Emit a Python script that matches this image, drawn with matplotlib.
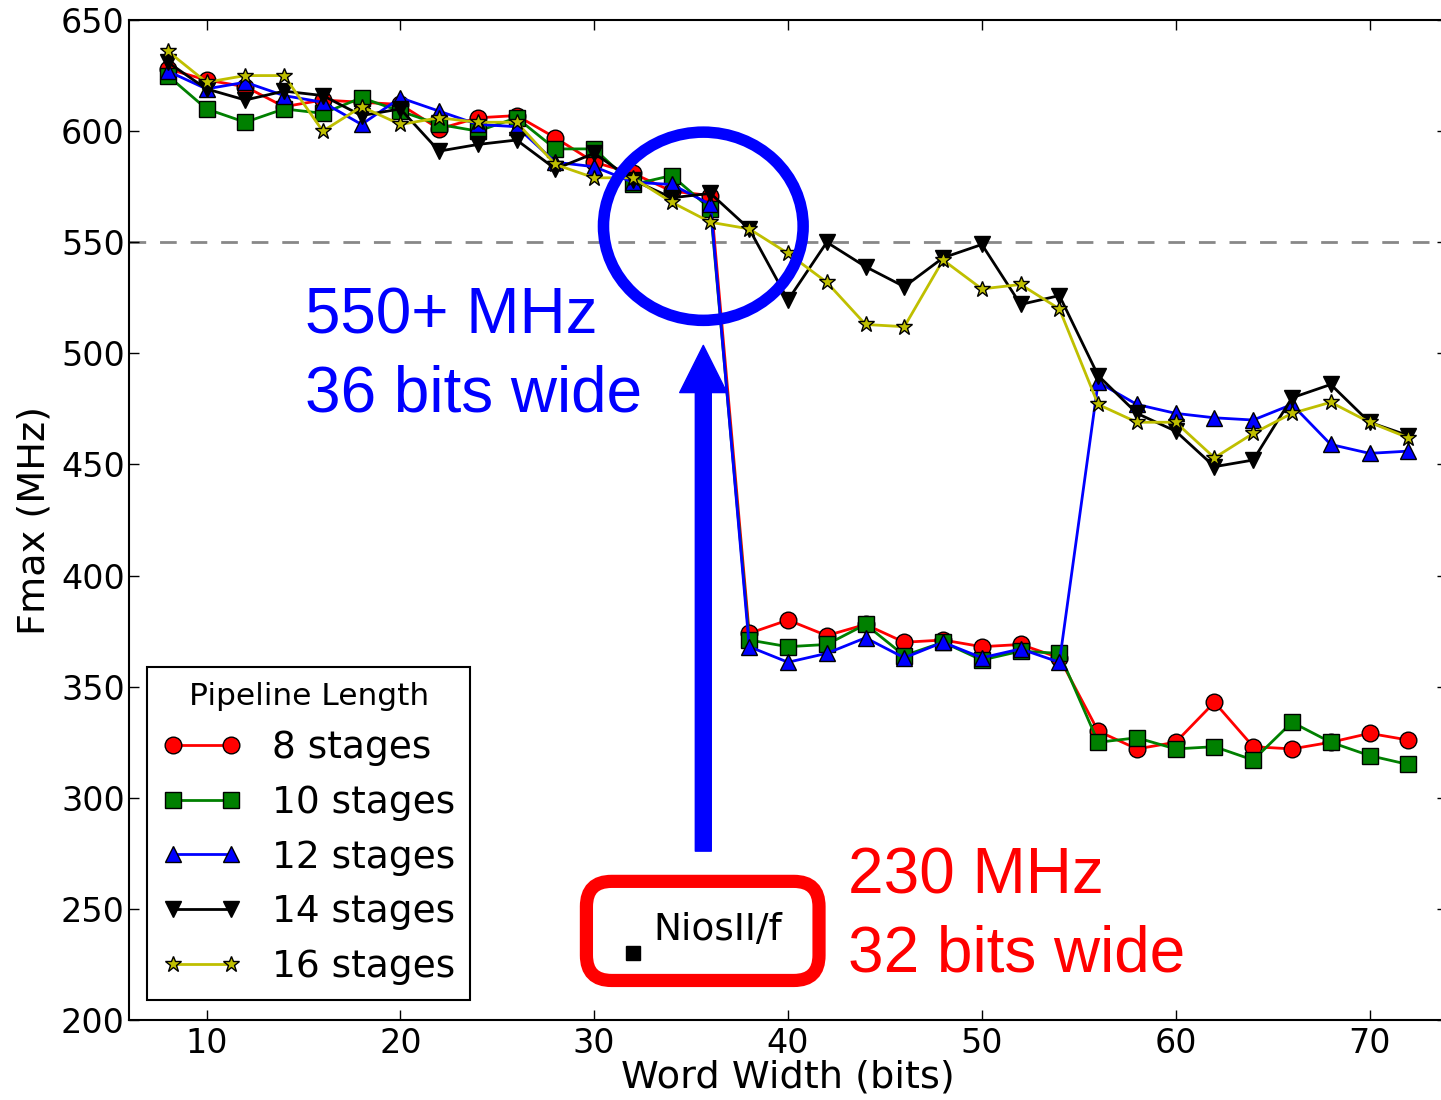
import matplotlib
matplotlib.use("Agg")
import matplotlib.pyplot as plt
from matplotlib.patches import Ellipse, FancyBboxPatch

# word widths (bits)
word_width = [8, 10, 12, 14, 16, 18, 20, 22, 24, 26, 28, 30, 32, 34, 36, 38, 40,
              42, 44, 46, 48, 50, 52, 54, 56, 58, 60, 62, 64, 66, 68, 70, 72]

# Fmax (MHz) per pipeline length
fmax_8 = [628, 623, 620, 611, 614, 613, 612, 601, 606, 607, 597, 586, 581, 573, 571, 374, 380,
          373, 378, 370, 371, 368, 369, 363, 330, 322, 325, 343, 323, 322, 325, 329, 326]
fmax_10 = [625, 610, 604, 610, 608, 615, 609, 603, 600, 606, 592, 592, 576, 580, 565, 371, 368,
           369, 378, 364, 370, 362, 366, 365, 325, 327, 322, 323, 317, 334, 325, 319, 315]
fmax_12 = [627, 619, 622, 616, 613, 603, 615, 609, 603, 602, 586, 584, 577, 576, 567, 368, 361,
           365, 372, 363, 370, 363, 367, 361, 487, 477, 473, 471, 470, 477, 459, 455, 456]
fmax_14 = [631, 619, 614, 618, 616, 607, 610, 591, 594, 596, 583, 590, 578, 570, 572, 556, 524,
           550, 539, 530, 543, 549, 522, 526, 490, 473, 465, 449, 452, 480, 486, 469, 463]
fmax_16 = [636, 622, 625, 625, 600, 611, 603, 606, 604, 604, 585, 579, 579, 568, 559, 556, 545,
           532, 513, 512, 542, 529, 531, 520, 477, 469, 469, 453, 464, 473, 478, 469, 462]

series = [
    ("8 stages", fmax_8, "r", "o"),
    ("10 stages", fmax_10, "g", "s"),
    ("12 stages", fmax_12, "b", "^"),
    ("14 stages", fmax_14, "k", "v"),
    ("16 stages", fmax_16, "#bfbf00", "*"),
]

nios_width = 32
nios_fmax = 230
target_fmax = 550

plt.rcParams["xtick.direction"] = "in"
plt.rcParams["ytick.direction"] = "in"
plt.rcParams["xtick.top"] = True
plt.rcParams["ytick.right"] = True

fig = plt.figure(figsize=(14.41, 11.0), dpi=100)
ax = fig.add_axes([0.0895, 0.0727, 0.9147, 0.9091])

for label, vals, col, mk in series:
    ax.plot(word_width, vals, color=col, marker=mk, lw=2, ms=12,
            mfc=col, mec="k", mew=1, label=label)

ax.axhline(target_fmax, color="#888888", lw=2, dashes=(6, 5), zorder=1)

# NiosII/f reference point
ax.plot([nios_width], [nios_fmax], "s", color="k", ms=10)
ax.text(33.05, 236, "NiosII/f", fontsize=27, va="baseline")
box = FancyBboxPatch((29.6, 217.8), 12.0, 44.6,
                     boxstyle="round,pad=0,rounding_size=1.3", mutation_aspect=8.73,
                     fill=False, ec="red", lw=9.5, clip_on=False, zorder=5)
ax.add_patch(box)

# highlight circle + arrow
ax.add_patch(Ellipse((35.63, 557.2), 10.3, 84.7, fill=False, ec="blue", lw=8.3, zorder=5))
ax.annotate("", xy=(35.63, 503.6), xytext=(35.63, 276),
            arrowprops=dict(facecolor="blue", edgecolor="blue", width=11.5,
                            headwidth=34, headlength=34, shrink=0))

big = dict(fontsize=46, family="Liberation Sans", va="baseline")
ax.text(15.1, 509, "550+ MHz", color="blue", **big)
ax.text(15.1, 474, "36 bits wide", color="blue", **big)
ax.text(43.1, 257, "230 MHz", color="red", **big)
ax.text(43.1, 222, "32 bits wide", color="red", **big)

ax.set_xlim(6, 74)
ax.set_ylim(200, 650)
ax.set_xticks([10, 20, 30, 40, 50, 60, 70])
ax.set_yticks(range(200, 651, 50))
ax.tick_params(labelsize=24, length=7, width=1)
ax.tick_params(axis="y", pad=3)
ax.tick_params(axis="x", pad=5)
for sp in ax.spines.values():
    sp.set_linewidth(1.5)
ax.set_xlabel("Word Width (bits)", fontsize=27.5, labelpad=0)
ax.set_ylabel("Fmax (MHz)", fontsize=27.5, labelpad=6)

leg = ax.legend(loc="lower left", bbox_to_anchor=(0.0137, 0.02), borderaxespad=0,
                title="Pipeline Length", fontsize=27, title_fontsize=22.5, numpoints=2,
                handlelength=2.15, handletextpad=0.78, labelspacing=0.5,
                borderpad=0.4, fancybox=False, framealpha=1, edgecolor="k")
leg.get_frame().set_linewidth(1.5)

fig.savefig("out.png", dpi=100)
